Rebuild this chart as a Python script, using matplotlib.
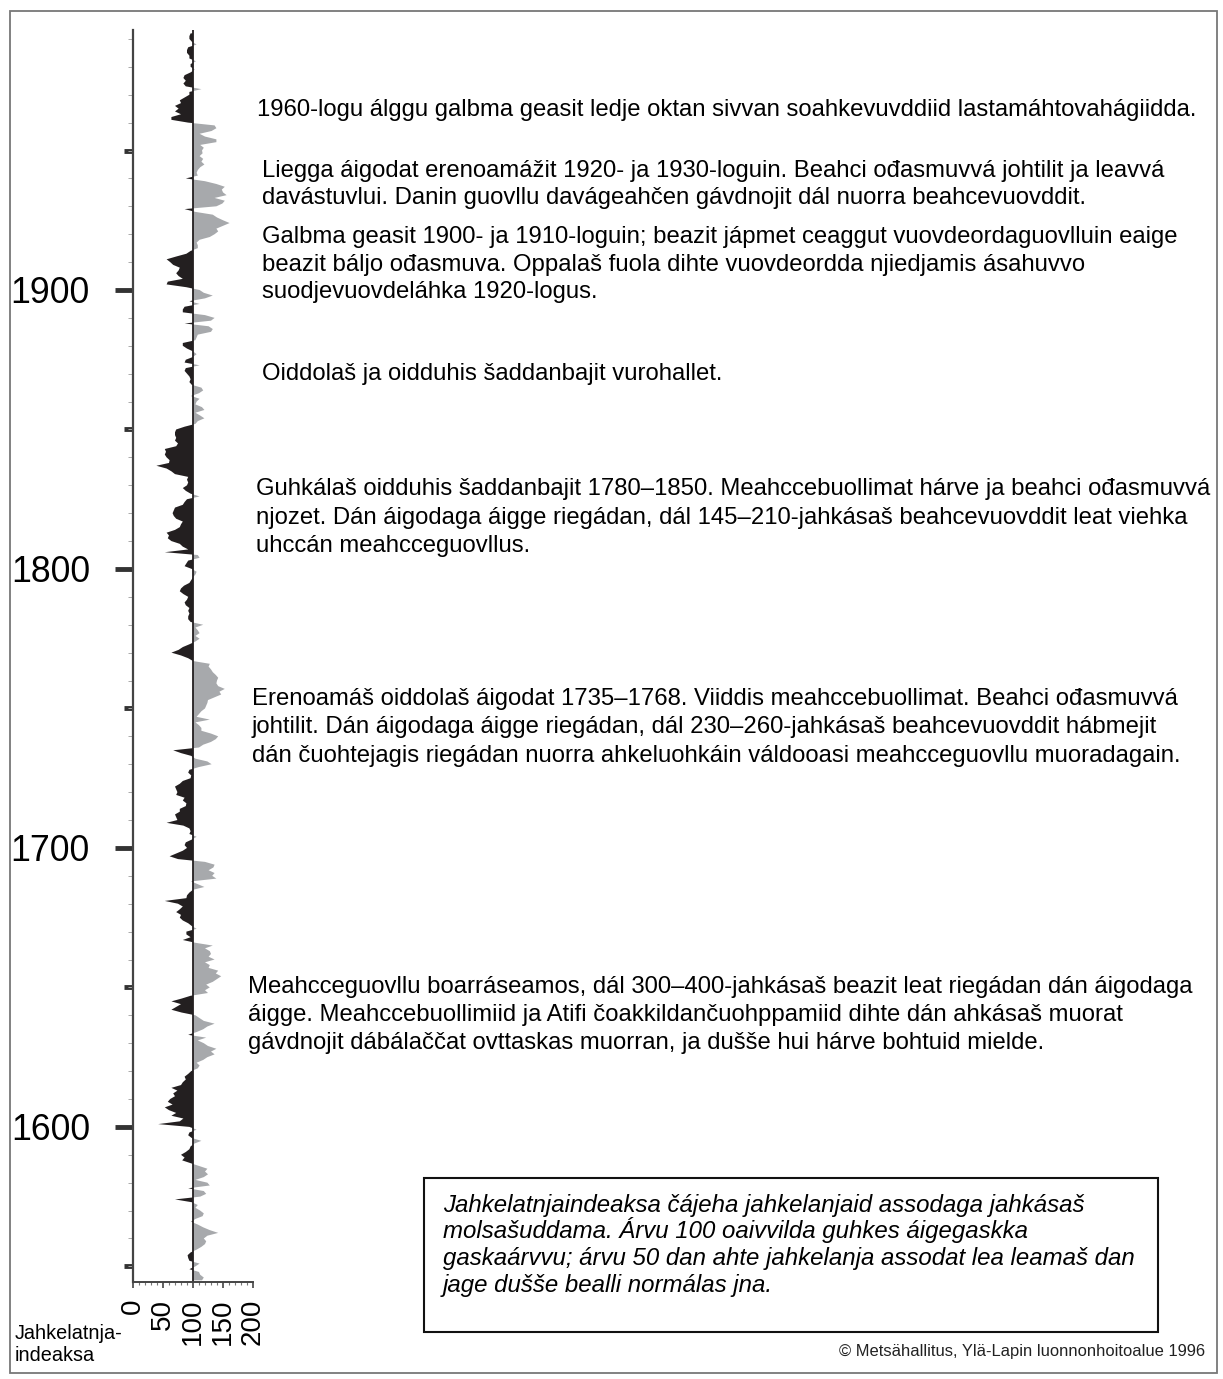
import numpy as np
import matplotlib.pyplot as plt
from matplotlib.ticker import MultipleLocator, FixedLocator
from matplotlib.patches import Rectangle

plt.rcParams['font.family'] = ['Liberation Sans', 'DejaVu Sans']

W, H = 1223, 1379

# jahkelatnjaindeaksa jahki jahkái (lohkan govas)
years = np.arange(1545, 1993)
index_1545 = [115, 118, 112, 110, 94,
              104, 111, 94, 92, 91, 96, 106, 114, 120, 122,
              118, 124, 142, 128, 117, 108, 97, 104, 116, 118,
              112, 104, 108, 98, 70, 112, 122, 118, 92, 128,
              124, 104, 118, 125, 120, 124, 110, 96, 82, 86,
              80, 88, 94, 96, 102, 114, 98, 92, 94, 106]
index_1600 = [94, 42, 78, 84, 64, 72, 60, 53, 66, 58,
              62, 70, 67, 74, 64, 80, 83, 88, 86, 92,
              97, 108, 111, 106, 117, 124, 136, 130, 139, 125,
              118, 108, 122, 92, 106, 117, 124, 136, 118, 111,
              104, 81, 64, 72, 80, 64, 81, 96, 125, 120,
              128, 122, 133, 140, 147, 138, 142, 126, 128, 120,
              136, 126, 130, 128, 120, 133, 104, 83, 96, 89,
              89, 106, 98, 92, 83, 78, 80, 72, 78, 83,
              75, 53, 89, 90, 94, 100, 119, 108, 97, 139,
              132, 136, 126, 134, 136, 120, 75, 61, 72, 83]
index_1700 = [90, 86, 88, 98, 106, 94, 96, 94, 84, 56,
              74, 72, 70, 78, 78, 88, 89, 83, 86, 72,
              74, 72, 70, 78, 83, 96, 97, 92, 94, 110,
              131, 124, 104, 97, 80, 67, 110, 117, 130, 138,
              142, 130, 114, 114, 110, 104, 128, 106, 110, 114,
              120, 122, 124, 125, 136, 147, 144, 153, 142, 139,
              140, 142, 138, 133, 130, 126, 128, 100, 92, 80,
              64, 76, 83, 94, 104, 111, 104, 111, 108, 104,
              117, 96, 92, 92, 94, 92, 94, 88, 86, 90,
              92, 84, 78, 80, 85, 94, 97, 100, 104, 106]
index_1800 = [98, 86, 89, 92, 111, 108, 53, 92, 83, 78,
              64, 58, 60, 56, 70, 78, 80, 83, 72, 68,
              66, 68, 70, 83, 86, 90, 111, 96, 88, 83,
              90, 92, 90, 92, 70, 64, 56, 39, 60, 61,
              56, 53, 55, 53, 72, 75, 70, 72, 70, 70,
              72, 86, 104, 108, 119, 112, 104, 119, 115, 104,
              106, 111, 97, 110, 117, 114, 98, 94, 96, 94,
              90, 86, 88, 111, 86, 88, 100, 106, 100, 90,
              83, 83, 104, 106, 108, 130, 133, 126, 86, 130,
              136, 120, 83, 83, 86, 111, 94, 120, 133, 118]
index_1900 = [111, 89, 56, 58, 83, 76, 72, 76, 78, 67,
              62, 56, 72, 89, 96, 108, 108, 106, 111, 128,
              136, 142, 139, 150, 161, 150, 140, 133, 104, 86,
              139, 149, 153, 136, 156, 150, 148, 153, 139, 120,
              88, 108, 106, 108, 112, 119, 114, 117, 111, 116,
              115, 118, 112, 139, 139, 120, 111, 131, 139, 136,
              92, 64, 64, 80, 70, 76, 70, 80, 78, 86,
              94, 94, 114, 88, 84, 88, 84, 86, 96, 103,
              96, 96, 105, 94, 94, 90, 90, 92, 106, 98,
              94, 94, 96]

index = np.array(index_1545 + index_1600 + index_1700 + index_1800 + index_1900, dtype=float)

century_ticks = [1600, 1700, 1800, 1900]
half_ticks = [1550, 1650, 1750, 1850, 1950]
x_ticks = [0, 50, 100, 150, 200]

# tekstat govva olggobealde
notes = [
    (257, [116], ["1960-logu álggu galbma geasit ledje oktan sivvan soahkevuvddiid lastamáhtovahágiidda."]),
    (262, [177, 204], ["Liegga áigodat erenoamážit 1920- ja 1930-loguin. Beahci ođasmuvvá johtilit ja leavvá",
                       "davástuvlui. Danin guovllu davágeahčen gávdnojit dál nuorra beahcevuovddit."]),
    (262, [243, 271, 298], ["Galbma geasit 1900- ja 1910-loguin; beazit jápmet ceaggut vuovdeordaguovlluin eaige",
                            "beazit báljo ođasmuva. Oppalaš fuola dihte vuovdeordda njiedjamis ásahuvvo",
                            "suodjevuovdeláhka 1920-logus."]),
    (262, [380], ["Oiddolaš ja oidduhis šaddanbajit vurohallet."]),
    (256, [495, 524, 552], ["Guhkálaš oidduhis šaddanbajit 1780–1850. Meahccebuollimat hárve ja beahci ođasmuvvá",
                            "njozet. Dán áigodaga áigge riegádan, dál 145–210-jahkásaš beahcevuovddit leat viehka",
                            "uhccán meahcceguovllus."]),
    (252, [705, 733, 762], ["Erenoamáš oiddolaš áigodat 1735–1768. Viiddis meahccebuollimat. Beahci ođasmuvvá",
                            "johtilit. Dán áigodaga áigge riegádan, dál 230–260-jahkásaš beahcevuovddit hábmejit",
                            "dán čuohtejagis riegádan nuorra ahkeluohkáin váldooasi meahcceguovllu muoradagain."]),
    (248, [993, 1021, 1049], ["Meahcceguovllu boarráseamos, dál 300–400-jahkásaš beazit leat riegádan dán áigodaga",
                              "áigge. Meahccebuollimiid ja Atifi čoakkildančuohppamiid dihte dán ahkásaš muorat",
                              "gávdnojit dábálaččat ovttaskas muorran, ja dušše hui hárve bohtuid mielde."]),
]
box_lines = ["Jahkelatnjaindeaksa čájeha jahkelanjaid assodaga jahkásaš",
             "molsašuddama. Árvu 100 oaivvilda guhkes áigegaskka",
             "gaskaárvvu; árvu 50 dan ahte jahkelanja assodat lea leamaš dan",
             "jage dušše bealli normálas jna."]
box_baselines = [1212, 1238, 1265, 1292]


def fx(x):
    return x / W


def fy(y):
    return 1 - y / H


fig = plt.figure(figsize=(W / 100, H / 100), dpi=100)
ax = fig.add_axes([fx(133), fy(1282), 120 / W, (1282 - 30) / H])

black = '#231f20'
grey = '#a7a9ac'
ax.fill_betweenx(years, 100, index, where=index < 100, interpolate=True,
                 color=black, lw=0)
ax.fill_betweenx(years, 100, index, where=index > 100, interpolate=True,
                 color=grey, lw=0)
ax.axvline(100, color=black, lw=1.3)

ax.set_xlim(0, 200)
ax.set_ylim(1544.4, 1993.2)

for s in ['top', 'right']:
    ax.spines[s].set_visible(False)
ax.spines['left'].set_color('#444444')
ax.spines['left'].set_linewidth(1.6)
ax.spines['bottom'].set_color('#444444')
ax.spines['bottom'].set_linewidth(1.4)

ax.yaxis.set_major_locator(FixedLocator(century_ticks))
ax.yaxis.set_minor_locator(MultipleLocator(10))
ax.set_yticklabels([str(y) for y in century_ticks])
ax.tick_params(axis='y', which='major', length=13, width=3.5, color='#333333',
               labelsize=25.7, pad=18)
ax.tick_params(axis='y', which='minor', length=3.5, width=0.7, color='#aaaaaa')

sec = ax.secondary_yaxis('left')
sec.set_yticks(half_ticks)
sec.tick_params(length=6.5, width=3.5, color='#333333', labelleft=False)
sec.spines['left'].set_visible(False)

ax.set_xticks(x_ticks)
ax.set_xticklabels([str(v) for v in x_ticks], rotation=90)
ax.xaxis.set_minor_locator(MultipleLocator(10))
ax.tick_params(axis='x', which='major', length=4, width=1.2, color='#444444',
               labelsize=20, pad=8)
ax.tick_params(axis='x', which='minor', length=2, width=0.8, color='#777777')

fig.text(fx(15), fy(1339), "Jahkelatnja-", fontsize=14.3, va='baseline')
fig.text(fx(15), fy(1361), "indeaksa", fontsize=14.3, va='baseline')

for x, bases, lines in notes:
    for b, line in zip(bases, lines):
        fig.text(fx(x), fy(b), line, fontsize=17.2, va='baseline')

fig.patches.append(Rectangle((fx(424), fy(1332)), (1158 - 424) / W, (1332 - 1178) / H,
                             transform=fig.transFigure, fill=False,
                             edgecolor='#111111', lw=1.5))
for b, line in zip(box_baselines, box_lines):
    fig.text(fx(443), fy(b), line, fontsize=17.3, style='italic', va='baseline')

fig.text(fx(1205), fy(1356), "© Metsähallitus, Ylä-Lapin luonnonhoitoalue 1996",
         fontsize=11.9, ha='right', va='baseline', color='#222222')

fig.patches.append(Rectangle((fx(10), fy(1373)), (1217 - 10) / W, (1373 - 11) / H,
                             transform=fig.transFigure, fill=False,
                             edgecolor='#777777', lw=1.3))

fig.savefig('out.png', dpi=100)
